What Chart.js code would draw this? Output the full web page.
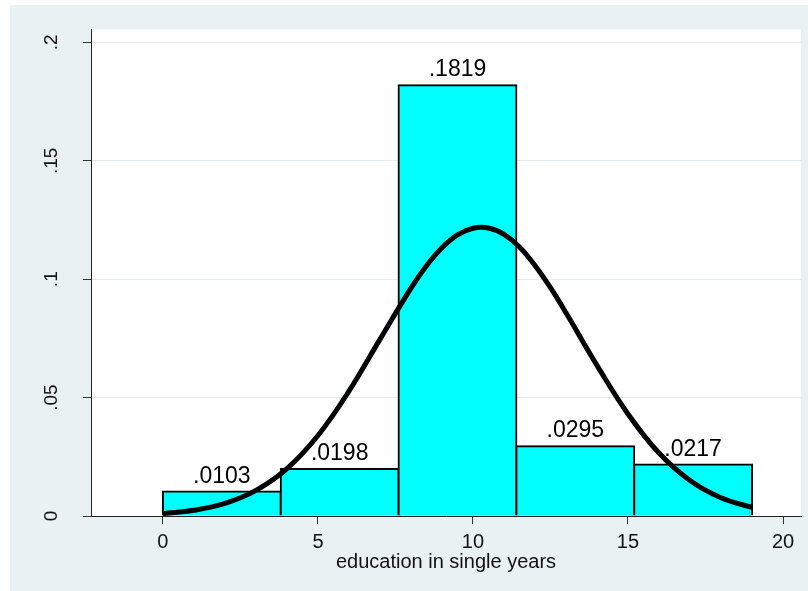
<!DOCTYPE html>
<html><head><meta charset="utf-8">
<script src="https://cdn.jsdelivr.net/npm/chart.js@4.4.0/dist/chart.umd.min.js"></script>
<style>html,body{margin:0;padding:0;background:#fff;}</style>
</head><body>
<canvas id="c" width="808" height="591"></canvas>
<script>
// ---- data ----
const binCenters = [1.9, 5.7, 9.5, 13.3, 17.1];
const densities = [0.0103, 0.0198, 0.1819, 0.0295, 0.0217];
const barLabels = ['.0103', '.0198', '.1819', '.0295', '.0217'];
const curveX = [0, 1, 2, 3, 4, 5, 6, 7, 8, 8.5, 9, 9.5, 10, 10.5, 11, 11.5, 12, 12.5, 13, 14, 15, 16, 17, 18, 19];
const curveY = [0.0010, 0.0024, 0.0053, 0.0108, 0.0200, 0.0340, 0.0527, 0.0746, 0.0962, 0.1057, 0.1133, 0.1187, 0.1215, 0.1216, 0.1189, 0.1136, 0.1058, 0.0964, 0.0858, 0.0636, 0.0431, 0.0266, 0.0150, 0.0077, 0.0036];
const xTickValues = [0, 5, 10, 15, 20];
const xTickLabels = ['0', '5', '10', '15', '20'];
const yTickValues = [0, 0.05, 0.1, 0.15, 0.2];
const yTickLabels = ['0', '.05', '.1', '.15', '.2'];
const xTitle = 'education in single years';

Chart.defaults.font.family = "Arial, 'Liberation Sans', sans-serif";
Chart.defaults.color = '#111';

const bgPlugin = {
  id: 'bg',
  beforeDraw(chart) {
    const {ctx, chartArea: a} = chart;
    ctx.save();
    ctx.fillStyle = '#ffffff';
    ctx.fillRect(0, 0, chart.width, chart.height);
    ctx.fillStyle = '#EAF1F3';
    ctx.fillRect(10, 5, chart.width - 10, chart.height - 5);
    ctx.fillStyle = '#ffffff';
    ctx.fillRect(a.left, a.top, a.right - a.left, a.bottom - a.top);
    ctx.restore();
  }
};

const labelPlugin = {
  id: 'barLabels',
  afterDatasetsDraw(chart) {
    const {ctx} = chart;
    const meta = chart.getDatasetMeta(0);
    ctx.save();
    ctx.font = "23px Arial, 'Liberation Sans', sans-serif";
    ctx.fillStyle = '#000';
    ctx.textAlign = 'center';
    ctx.textBaseline = 'alphabetic';
    meta.data.forEach((el, i) => {
      ctx.fillText(barLabels[i], el.x, el.y - 9);
    });
    ctx.restore();
  }
};

new Chart(document.getElementById('c'), {
  type: 'bar',
  data: {
    datasets: [
      {
        type: 'bar',
        data: binCenters.map((x, i) => ({x: x, y: densities[i]})),
        backgroundColor: '#00FFFF',
        borderColor: '#000',
        borderWidth: 2,
        inflateAmount: 1,
        barPercentage: 1,
        categoryPercentage: 1,
        grouped: false,
        order: 2
      },
      {
        type: 'line',
        data: curveX.map((x, i) => ({x: x, y: curveY[i]})),
        borderColor: '#000',
        borderWidth: 5,
        pointRadius: 0,
        fill: false,
        tension: 0.4,
        order: 1
      }
    ]
  },
  options: {
    responsive: false,
    animation: false,
    devicePixelRatio: 1,
    layout: {padding: {left: 10, right: 7, top: 27, bottom: 5}},
    plugins: {legend: {display: false}, tooltip: {enabled: false}},
    scales: {
      x: {
        type: 'linear',
        min: -2.32,
        max: 20.58,
        offset: false,
        afterBuildTicks: s => { s.ticks = xTickValues.map(v => ({value: v})); },
        afterFit: s => { s.height = 70; },
        ticks: {
          callback: v => xTickLabels[xTickValues.indexOf(v)],
          font: {size: 20}, color: '#111', padding: 6, maxRotation: 0, autoSkip: false
        },
        grid: {offset: false, drawOnChartArea: false, drawTicks: true, tickLength: 8, tickColor: '#333'},
        border: {color: '#222', width: 1},
        title: {display: true, text: xTitle, font: {size: 20}, color: '#111', padding: {top: 0, bottom: 12}}
      },
      y: {
        min: 0,
        max: 0.2055,
        afterBuildTicks: s => { s.ticks = yTickValues.map(v => ({value: v})); },
        afterFit: s => { s.width = 81; },
        ticks: {
          callback: v => yTickLabels[yTickValues.indexOf(v)],
          font: {size: 19}, color: '#111', padding: 18, minRotation: 90, maxRotation: 90,
          crossAlign: 'center', autoSkip: false
        },
        grid: {offset: false, color: '#E4EDF0', lineWidth: 1, drawTicks: true, tickLength: 8, tickColor: '#333'},
        border: {color: '#222', width: 1}
      }
    }
  },
  plugins: [bgPlugin, labelPlugin]
});
</script>
</body></html>
